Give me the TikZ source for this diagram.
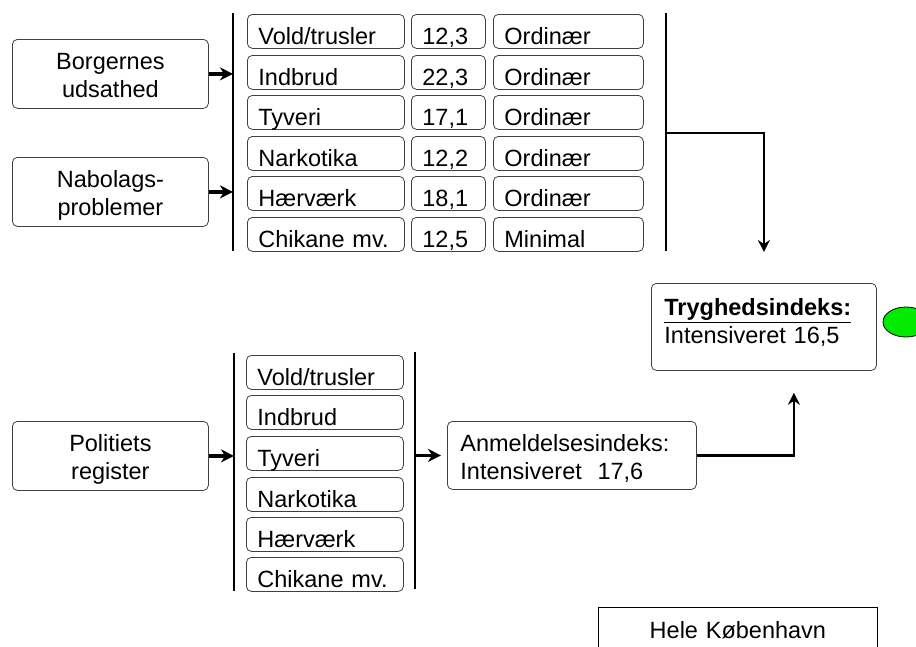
\documentclass[tikz,border=0pt]{standalone}
\usepackage{fontspec}
\setmainfont{Liberation Sans}
\usetikzlibrary{arrows.meta,shapes.geometric}
\definecolor{lampegroen}{RGB}{0,235,0}
\begin{document}
\begin{tikzpicture}[x=1pt,y=-1pt,
    font=\fontsize{23.5}{28.5}\selectfont,
    kasse/.style ={draw=black!75, line width=0.8pt, rounded corners=5pt, anchor=north west, inner ysep=0pt},
    kilde/.style ={kasse, text width=196pt, inner xsep=0pt, align=center, text height=30pt, text depth=39pt},
    kategori/.style ={kasse, text width=135pt, inner xsep=11pt, text height=30.5pt, text depth=3.5pt},
    tal/.style ={kasse, text width=52pt, inner xsep=11pt, text height=30.5pt, text depth=3.5pt},
    status/.style ={kasse, text width=128pt, inner xsep=11pt, text height=30.5pt, text depth=3.5pt},
    indeks/.style ={kasse, inner xsep=13pt},
    bjaelke/.style ={line width=2.6pt},
    pil/.style ={line width=3.2pt, -{Stealth[length=13pt,width=13pt,inset=4pt]}},
    forbind/.style ={line width=2.8pt, -{Stealth[length=12pt,width=12pt,inset=4pt]}}]
   \clip (0,0) rectangle (916,646);

   % kilder
   \node[kilde] (borger)  at (12,39)  {Borgernes\\udsathed};
   \node[kilde] (nabo)    at (12,157) {Nabolags-\\problemer};
   \node[kilde] (politi)  at (12,421) {Politiets\\register};

   % spoergeskema
   \node[kategori] (vold1)  at (247,14)  {Vold/trusler};
   \node[kategori] (indb1)  at (247,55)  {Indbrud};
   \node[kategori] (tyv1)   at (247,95)  {Tyveri};
   \node[kategori] (nark1)  at (247,136) {Narkotika};
   \node[kategori] (haer1)  at (247,176) {Hærværk};
   \node[kategori] (chik1)  at (247,217) {Chikane mv.};

   \node[tal] (tvold)  at (411,14)  {12,3};
   \node[tal] (tindb)  at (411,55)  {22,3};
   \node[tal] (ttyv)   at (411,95)  {17,1};
   \node[tal] (tnark)  at (411,136) {12,2};
   \node[tal] (thaer)  at (411,176) {18,1};
   \node[tal] (tchik)  at (411,217) {12,5};

   \node[status] (svold)  at (493,14)  {Ordinær};
   \node[status] (sindb)  at (493,55)  {Ordinær};
   \node[status] (styv)   at (493,95)  {Ordinær};
   \node[status] (snark)  at (493,136) {Ordinær};
   \node[status] (shaer)  at (493,176) {Ordinær};
   \node[status] (schik)  at (493,217) {Minimal};

   % anmeldelser
   \node[kategori] (vold2)  at (246,355) {Vold/trusler};
   \node[kategori] (indb2)  at (246,395) {Indbrud};
   \node[kategori] (tyv2)   at (246,436) {Tyveri};
   \node[kategori] (nark2)  at (246,477) {Narkotika};
   \node[kategori] (haer2)  at (246,517) {Hærværk};
   \node[kategori] (chik2)  at (246,557) {Chikane mv.};

   \node[indeks, text width=223pt, text height=30pt, text depth=38pt] (anm) at (447,421)
      {Anmeldelsesindeks:\\Intensiveret~~17,6};
   \node[indeks, text width=199pt, text height=32pt, text depth=55pt] (tryg) at (651,283)
      {\textbf{\underline{Tryghedsindeks:}}\\Intensiveret 16,5};
   \node[ellipse, draw, line width=0.8pt, fill=lampegroen, minimum width=46pt, minimum height=30pt] (lampe) at (906,322) {};
   \node[draw, line width=0.8pt, anchor=north west, text width=279pt, inner sep=0pt, align=center,
      text height=31pt, text depth=40pt] (hele) at (598,607) {Hele København};

   % bjaelker
   \coordinate (b1top) at (233,13);  \coordinate (b1bund) at (233,251);
   \coordinate (b2top) at (666,13);  \coordinate (b2bund) at (666,251);
   \coordinate (b3top) at (234,353); \coordinate (b3bund) at (234,591);
   \coordinate (b4top) at (415,352); \coordinate (b4bund) at (415,589);
   \coordinate (b2midt) at (666,133);
   \draw[bjaelke] (b1top) -- (b1bund);
   \draw[bjaelke] (b2top) -- (b2bund);
   \draw[bjaelke] (b3top) -- (b3bund);
   \draw[bjaelke] (b4top) -- (b4bund);

   \draw[pil] (borger.east) -- (borger.east -| b1top);
   \draw[pil] (nabo.east) -- (nabo.east -| b1top);
   \draw[pil] (politi.east) -- (politi.east -| b3top);
   \draw[pil, shorten >=6pt] (anm.west -| b4top) -- (anm.west);

   \draw[forbind, shorten >=31pt] (b2midt) -| (tryg.north);
   \draw[forbind, shorten >=22pt] (anm.east) -| ([xshift=30pt]tryg.south);
 \end{tikzpicture}
\end{document}
